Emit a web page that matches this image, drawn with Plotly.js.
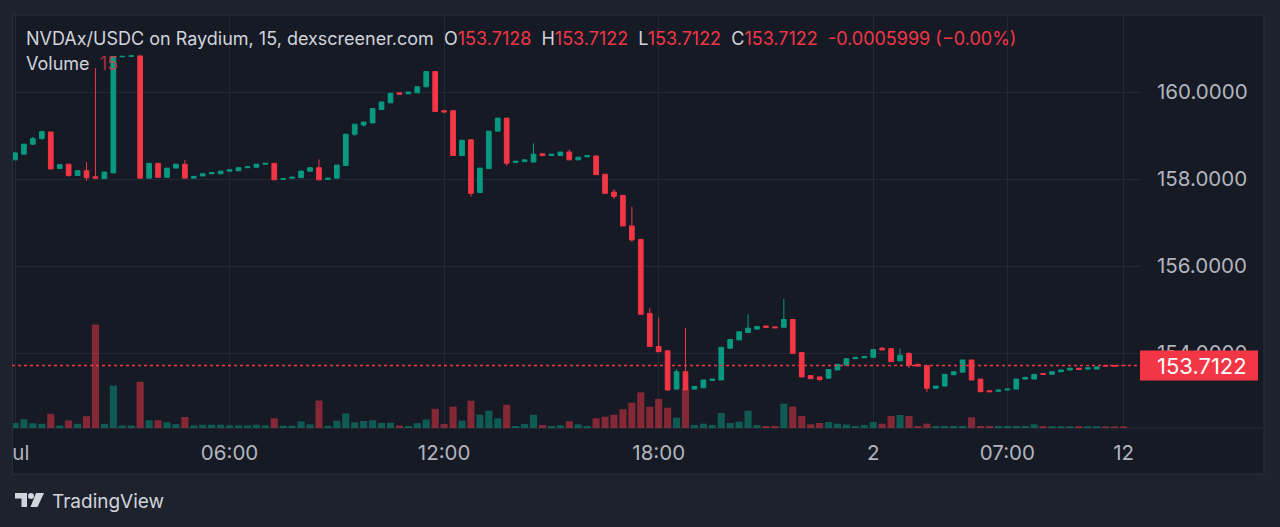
<!DOCTYPE html>
<html><head><meta charset="utf-8">
<script src="https://cdn.plot.ly/plotly-3.0.1.min.js"></script>
<style>html,body{margin:0;padding:0;background:#1e222d;overflow:hidden}#chart{width:1280px;height:527px}</style>
</head><body><div id="chart"></div>
<script>
// ---- data (15-minute bars) ----
const openV=[158.44,158.57,158.80,158.93,159.08,158.24,158.34,158.08,158.19,158.05,
158.01,158.14,160.81,160.82,160.83,158.02,158.36,158.04,158.25,158.34,
158.02,158.07,158.12,158.12,158.18,158.19,158.26,158.27,158.34,158.36,
157.99,158.02,158.03,158.18,158.26,157.99,158.02,158.31,159.03,159.24,
159.29,159.60,159.75,159.98,159.96,159.98,160.12,160.47,159.57,159.57,
158.54,158.90,157.69,158.24,159.10,159.40,158.38,158.40,158.39,158.58,
158.54,158.54,158.62,158.44,158.51,158.53,158.11,157.70,157.62,156.92,
156.61,154.91,154.15,154.05,153.17,153.57,153.17,153.20,153.37,153.38,
154.11,154.30,154.47,154.55,154.62,154.60,154.59,154.77,154.01,153.48,
153.45,153.42,153.61,153.72,153.87,153.89,153.90,154.11,154.10,153.82,
153.99,153.74,153.71,153.19,153.24,153.50,153.56,153.84,153.40,153.13,
153.12,153.15,153.17,153.40,153.40,153.53,153.51,153.57,153.61,153.65,
153.63,153.63,153.71,153.71,153.7128];
const highV=[158.62,158.80,158.97,159.09,159.08,158.33,158.34,158.19,158.39,160.55,
158.16,160.83,160.82,160.83,160.83,158.36,158.36,158.25,158.34,158.44,
158.06,158.12,158.15,158.18,158.21,158.26,158.28,158.34,158.36,158.36,
158.01,158.04,158.20,158.26,158.45,158.02,158.32,159.03,159.26,159.31,
159.62,159.77,159.97,159.98,160.00,160.12,160.47,160.47,159.57,159.57,
158.89,158.92,158.25,159.10,159.40,159.40,158.41,158.44,158.82,158.58,
158.57,158.62,158.68,158.51,158.54,158.53,158.11,157.77,157.62,157.36,
156.61,155.03,154.81,154.05,153.63,154.58,153.23,153.38,153.40,154.13,
154.31,154.49,154.89,154.61,154.62,154.60,155.24,154.77,154.01,153.48,
153.45,153.62,153.74,153.87,153.90,153.92,154.08,154.14,154.10,154.10,
154.03,153.74,153.71,153.24,153.51,153.57,153.84,153.84,153.40,153.13,
153.15,153.17,153.40,153.44,153.51,153.53,153.57,153.61,153.65,153.65,
153.66,153.68,153.71,153.71,153.7128];
const lowV=[158.44,158.57,158.78,158.90,158.23,158.24,158.05,158.08,157.96,158.01,
158.01,158.14,160.80,160.82,158.02,158.02,158.04,158.04,158.24,158.02,
158.02,158.07,158.12,158.12,158.18,158.19,158.26,158.27,158.34,157.98,
157.99,158.02,158.03,158.18,157.98,157.99,158.02,158.31,158.99,159.20,
159.29,159.60,159.75,159.94,159.96,159.98,160.12,159.55,159.53,158.54,
158.54,157.59,157.69,158.24,159.10,158.30,158.38,158.40,158.39,158.52,
158.54,158.54,158.44,158.44,158.51,158.10,157.67,157.54,156.92,156.56,
154.89,154.15,154.03,153.13,153.17,153.15,153.17,153.20,153.37,153.38,
154.11,154.30,154.47,154.55,154.59,154.58,154.59,153.99,153.45,153.41,
153.36,153.42,153.61,153.72,153.87,153.89,153.90,154.07,153.80,153.82,
153.65,153.70,153.10,153.19,153.24,153.50,153.56,153.38,153.11,153.11,
153.12,153.15,153.17,153.40,153.40,153.51,153.51,153.57,153.61,153.62,
153.63,153.63,153.70,153.70,153.7122];
const closeV=[158.60,158.80,158.93,159.09,158.23,158.33,158.08,158.19,158.03,158.02,
158.16,160.81,160.82,160.83,158.02,158.36,158.04,158.25,158.34,158.02,
158.06,158.12,158.15,158.18,158.21,158.26,158.28,158.34,158.36,157.98,
158.01,158.04,158.18,158.26,157.98,158.02,158.32,159.03,159.26,159.31,
159.62,159.77,159.97,159.95,160.00,160.12,160.47,159.55,159.54,158.54,
158.89,157.67,158.25,159.10,159.40,158.36,158.41,158.44,158.57,158.54,
158.57,158.62,158.44,158.50,158.54,158.10,157.67,157.60,156.92,156.60,
154.89,154.15,154.03,153.15,153.57,153.15,153.23,153.38,153.40,154.13,
154.31,154.49,154.57,154.61,154.59,154.58,154.77,153.99,153.45,153.41,
153.39,153.62,153.74,153.87,153.90,153.92,154.08,154.07,153.80,153.95,
153.72,153.70,153.19,153.24,153.51,153.57,153.84,153.38,153.11,153.11,
153.15,153.17,153.40,153.44,153.51,153.51,153.57,153.61,153.65,153.62,
153.66,153.68,153.70,153.70,153.7122];
const volumeV=[50,88,48,42,142,25,75,42,118,1035,
42,425,25,25,462,78,78,57,38,110,
27,33,33,33,27,27,27,33,27,97,
23,23,67,37,275,23,73,147,57,70,
77,50,53,25,20,48,85,192,40,213,
73,273,133,173,97,233,20,40,133,30,
20,27,68,37,20,98,113,133,187,253,
357,213,290,203,103,390,30,43,30,150,
50,63,173,30,20,20,243,213,120,37,
50,60,43,35,20,30,60,43,120,130,
120,20,43,20,20,20,20,107,20,20,
20,20,20,20,37,18,18,18,18,18,
18,18,15,15,15];
const tickIdx=[0,24,48,72,96,111,124];
const tickText=['Jul','06:00','12:00','18:00','2','07:00','12'];
const priceTicks=[154,156,158,160];
const headerName='NVDAx/USDC on Raydium, 15, dexscreener.com';
const headerVals=[['O','153.7128'],['H','153.7122'],['L','153.7122'],['C','153.7122']];
const headerChange='-0.0005999 (\u22120.00%)';
const volLabel='15';

// ---- styling ----
const UP='#089981', DOWN='#f23645';
const UPV='rgba(8,153,129,0.5)', DOWNV='rgba(242,54,69,0.5)';
const OUTER='#1e222d', PANE='#161a25', BORDER='#2a2e39', GRID='#242835', TXT='#b2b5be';
const FONT='Inter, Roboto, sans-serif';
const PL=12, PR=1140, PT=15, PB=428;
const px=x=>(x-PL)/(PR-PL), py=y=>(PB-y)/(PB-PT);

const idx=closeV.map((_,i)=>i);
const volColors=closeV.map((c,i)=>c>=openV[i]?UPV:DOWNV);
const last=closeV.length-1;
const lastClose=closeV[last];

const traces=[
 {type:'bar',x:idx,y:volumeV,yaxis:'y',marker:{color:volColors,line:{width:0}},hoverinfo:'skip'},
 {type:'candlestick',x:idx,open:openV,high:highV,low:lowV,close:closeV,yaxis:'y2',
  increasing:{line:{color:UP,width:1},fillcolor:UP},
  decreasing:{line:{color:DOWN,width:1},fillcolor:DOWN},
  whiskerwidth:0,hoverinfo:'skip'}
];

const sp='\u00a0';
let header='<span style="color:#d1d4dc">'+headerName+'</span>'+sp+sp;
headerVals.forEach(([k,v])=>{header+='<span style="color:#d1d4dc">'+k+'</span><span style="color:'+DOWN+'">'+v+'</span>'+sp+sp;});
header+='<span style="color:'+DOWN+'">'+headerChange+'</span>';

function poly(pts){return 'M'+pts.map(p=>px(p[0]).toFixed(5)+','+py(p[1]).toFixed(5)).join('L')+'Z';}

const shapes=[
 {type:'rect',layer:'below',xref:'paper',yref:'paper',x0:px(12.5),x1:px(1264),y0:py(15),y1:py(474),fillcolor:PANE,line:{color:BORDER,width:1}},
 {type:'line',layer:'below',xref:'paper',yref:'paper',x0:px(12.5),x1:px(1264),y0:0,y1:0,line:{color:BORDER,width:1}},
 {type:'rect',layer:'above',xref:'paper',yref:'paper',x0:px(0),x1:px(13),y0:py(15),y1:py(474),fillcolor:OUTER,line:{width:0}},
 {type:'line',layer:'above',xref:'paper',yref:'paper',x0:px(12.5),x1:px(12.5),y0:py(15),y1:py(474),line:{color:BORDER,width:1}},
 {type:'line',layer:'above',xref:'paper',yref:'y2',x0:0,x1:1,y0:lastClose,y1:lastClose,line:{color:DOWN,width:1.3,dash:'dot'}},
 {type:'rect',layer:'above',xref:'paper',yref:'y2',ysizemode:'pixel',yanchor:lastClose,y0:-15,y1:15,x0:1,x1:px(1258),fillcolor:DOWN,line:{width:0}},
 // TradingView logo
 {type:'path',layer:'above',xref:'paper',yref:'paper',path:poly([[15,493],[27,493],[27,507],[21.5,507],[21.5,498.5],[15,498.5]]),fillcolor:'#d1d4dc',line:{width:0}},
 {type:'circle',layer:'above',xref:'paper',yref:'paper',x0:px(28),x1:px(34),y0:py(499),y1:py(493),fillcolor:'#d1d4dc',line:{width:0}},
 {type:'path',layer:'above',xref:'paper',yref:'paper',path:poly([[36,493],[44,493],[37.5,507],[30.5,507]]),fillcolor:'#d1d4dc',line:{width:0}}
];

const annotations=[
 {xref:'paper',yref:'paper',x:px(24),y:py(38),xanchor:'left',yanchor:'middle',showarrow:false,text:header,font:{family:FONT,size:18,color:'#d1d4dc'}},
 {xref:'paper',yref:'paper',x:px(24),y:py(63),xanchor:'left',yanchor:'middle',showarrow:false,
  text:'<span style="color:#d1d4dc">Volume</span>'+sp+sp+'<span style="color:rgba(242,54,69,0.7)">'+volLabel+'</span>',font:{family:FONT,size:18,color:'#d1d4dc'}},
 {xref:'paper',yref:'y2',x:px(1202),y:lastClose,xanchor:'center',yanchor:'middle',showarrow:false,text:lastClose.toFixed(4),font:{family:FONT,size:22,color:'#ffffff'}},
 {xref:'paper',yref:'paper',x:px(50),y:py(501),xanchor:'left',yanchor:'middle',showarrow:false,text:'TradingView',font:{family:FONT,size:19,color:'#d1d4dc'}}
];

const layout={
 width:1280,height:527,margin:{l:PL,r:1280-PR,t:PT,b:527-PB,pad:0},
 paper_bgcolor:OUTER,plot_bgcolor:'rgba(0,0,0,0)',
 showlegend:false,hovermode:false,dragmode:false,
 boxgap:0.25,bargap:0.2,
 xaxis:{type:'linear',range:[-0.336,125.84],tickvals:tickIdx,ticktext:tickText,showgrid:true,gridcolor:GRID,gridwidth:1,
  zeroline:false,showline:false,ticks:'',tickfont:{family:FONT,size:20.5,color:TXT},ticklabelstandoff:10,
  rangeslider:{visible:false},fixedrange:true,automargin:false},
 yaxis:{range:[0,4130],visible:false,showgrid:false,zeroline:false,fixedrange:true,automargin:false},
 yaxis2:{overlaying:'y',side:'right',range:[152.276,161.77],tickvals:priceTicks,tickformat:'.4f',
  showgrid:true,gridcolor:GRID,gridwidth:1,zeroline:false,showline:false,ticks:'',
  tickfont:{family:FONT,size:20.5,color:TXT},ticklabelstandoff:16,fixedrange:true,automargin:false},
 shapes:shapes,annotations:annotations,
 font:{family:FONT,color:TXT}
};
Plotly.newPlot('chart',traces,layout,{displayModeBar:false,staticPlot:true});
</script></body></html>
